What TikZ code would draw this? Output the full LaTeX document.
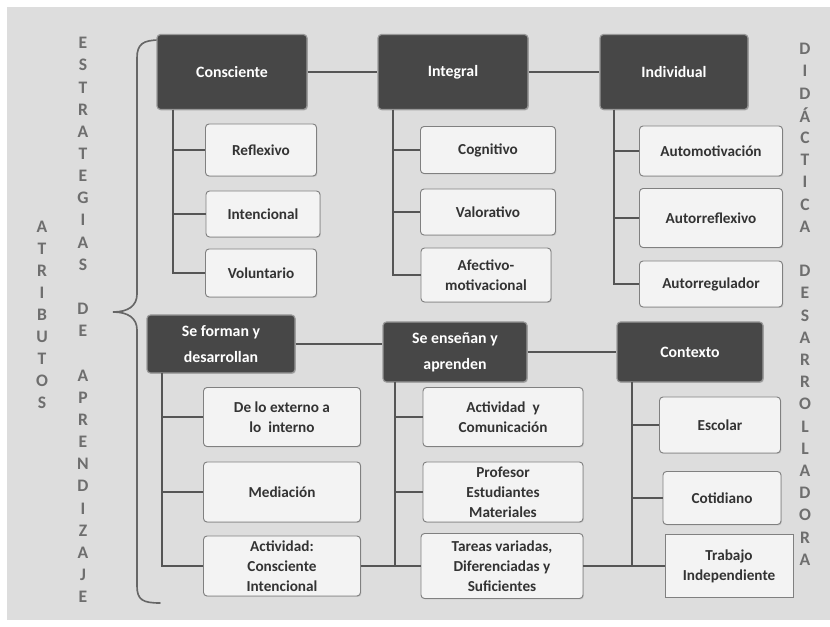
\documentclass[tikz,border=0pt]{standalone}
\usepackage{fontspec}
\setmainfont{Carlito}
\usetikzlibrary{shadows}

\definecolor{bggray}{HTML}{DDDDDD}
\definecolor{headfill}{HTML}{474747}
\definecolor{leaffill}{HTML}{F3F3F3}
\definecolor{linegray}{HTML}{555555}
\definecolor{lettergray}{HTML}{6E6E6E}

\tikzset{
  head/.style={draw=gray!80, line width=1pt, fill=headfill, rounded corners=3pt,
    text=white, align=center, font=\bfseries\fontsize{13.5}{22}\selectfont,
    drop shadow={opacity=0.35, shadow xshift=0.8pt, shadow yshift=-0.8pt}},
  leaf/.style={draw=gray, line width=0.8pt, fill=leaffill, rounded corners=3pt,
    text=black!80, align=center, font=\bfseries\fontsize{13}{17}\selectfont,
    drop shadow={opacity=0.25, shadow xshift=0.8pt, shadow yshift=-0.8pt}},
  bsize/.style 2 args={minimum width=#1*0.03cm, minimum height=#2*0.03cm},
  link/.style={draw=linegray, line width=1.3pt},
  letter/.style={text=lettergray, font=\bfseries\fontsize{15}{15}\selectfont, inner sep=0pt},
  bracket/.style={draw=linegray!90, line width=1.4pt, line cap=round}
}

\begin{document}
\begin{tikzpicture}[x=0.03cm, y=-0.03cm]

\useasboundingbox (0,0) rectangle (830,627);
\fill[bggray] (7,7) rectangle (830,620);

% vertical words
\foreach \l [count=\i] in {A,T,R,I,B,U,T,O,S}
  \node[letter] (atr\i) at (42, {227+(\i-1)*22}) {\l};
\foreach \l [count=\i] in {E,S,T,R,A,T,E,G,I,A,S,,D,E,,A,P,R,E,N,D,I,Z,A,J,E}
  \node[letter] (est\i) at (83, {43+(\i-1)*22.16}) {\l};
\foreach \l [count=\i] in {D,I,D,Á,C,T,I,C,A,,D,E,S,A,R,R,O,L,L,A,D,O,R,A}
  \node[letter] (did\i) at (805, {49+(\i-1)*22.2}) {\l};

% brace
\draw[bracket] (160,40) .. controls (143,40) and (137,44) .. (137,58) -- (137,294)
  .. controls (137,306) and (128,312) .. (113,312)
  .. controls (128,312) and (137,318) .. (137,330) -- (137,586)
  .. controls (137,600) and (143,603) .. (160,603);

% upper row
\node[head, bsize={150}{75}] (cons) at (232,72) {Consciente};
\node[head, bsize={150}{75}] (integ) at (453,72) {Integral};
\node[head, bsize={148}{75}] (indiv) at (674,72) {Individual};

\node[leaf, bsize={111}{52}] (refl) at (261,150) {Reflexivo};
\node[leaf, bsize={114}{46}] (intenc) at (263,214) {Intencional};
\node[leaf, bsize={111}{48}] (volun) at (261,273) {Voluntario};

\node[leaf, bsize={135}{47}] (cogn) at (488,150) {Cognitivo};
\node[leaf, bsize={135}{46}] (valor) at (488,212) {Valorativo};
\node[leaf, bsize={130}{54}] (afect) at (486,275) {Afectivo-\\motivacional};

\node[leaf, bsize={143}{50}] (automot) at (711,151) {Automotivación};
\node[leaf, bsize={143}{59}] (autorefl) at (711,218) {Autorreflexivo};
\node[leaf, bsize={143}{46}] (autoreg) at (711,284) {Autorregulador};

% lower row
\node[head, bsize={148}{58}] (seform) at (221,344) {Se forman y\\desarrollan};
\node[head, bsize={144}{60}] (seens) at (455,352) {Se enseñan y\\aprenden};
\node[head, bsize={146}{60}] (contx) at (690,352) {Contexto};

\node[leaf, bsize={157}{59}] (extern) at (282,417) {De lo externo a\\lo\ \ interno};
\node[leaf, bsize={157}{60}] (media) at (282,492) {Mediación};
\node[leaf, bsize={157}{60}] (activ) at (282,566) {Actividad:\\Consciente\\Intencional};

\node[leaf, bsize={160}{59}] (comun) at (503,417) {Actividad\ \ y\\Comunicación};
\node[leaf, bsize={160}{60}] (prof) at (503,492) {Profesor\\Estudiantes\\Materiales};
\node[leaf, bsize={162}{65}] (tareas) at (502,566) {Tareas variadas,\\Diferenciadas y\\Suficientes};

\node[leaf, bsize={121}{56}] (escol) at (720,425) {Escolar};
\node[leaf, bsize={118}{53}] (cotid) at (722,498) {Cotidiano};
\node[leaf, rounded corners=0pt, bsize={128}{63}] (trabajo) at (729,566) {Trabajo\\Independiente};

% trunks
\coordinate (consT) at (173,110);
\coordinate (integT) at (393,110);
\coordinate (indivT) at (614,110);
\coordinate (seformT) at (162,373);
\coordinate (seensT) at (395,382);
\coordinate (contxT) at (632,382);

\draw[link] (cons.east) -- (integ.west);
\draw[link] (integ.east) -- (indiv.west);
\draw[link] (seform.east) -- (seform.east -| seens.west);
\draw[link] (seens.east) -- (contx.west);

\draw[link] (consT) |- (refl.west);
\draw[link] (consT) |- (intenc.west);
\draw[link] (consT) |- (volun.west);

\draw[link] (integT) |- (cogn.west);
\draw[link] (integT) |- (valor.west);
\draw[link] (integT) |- (afect.west);

\draw[link] (indivT) |- (automot.west);
\draw[link] (indivT) |- (autorefl.west);
\draw[link] (indivT) |- (autoreg.west);

\draw[link] (seformT) |- (extern.west);
\draw[link] (seformT) |- (media.west);
\draw[link] (seformT) |- (activ.west);

\draw[link] (seensT) |- (comun.west);
\draw[link] (seensT) |- (prof.west);
\draw[link] (seensT) |- (tareas.west);
\draw[link] (activ.east) -- (tareas.west);

\draw[link] (contxT) |- (escol.west);
\draw[link] (contxT) |- (cotid.west);
\draw[link] (contxT) |- (trabajo.west);
\draw[link] (tareas.east) -- (trabajo.west);

\end{tikzpicture}
\end{document}
